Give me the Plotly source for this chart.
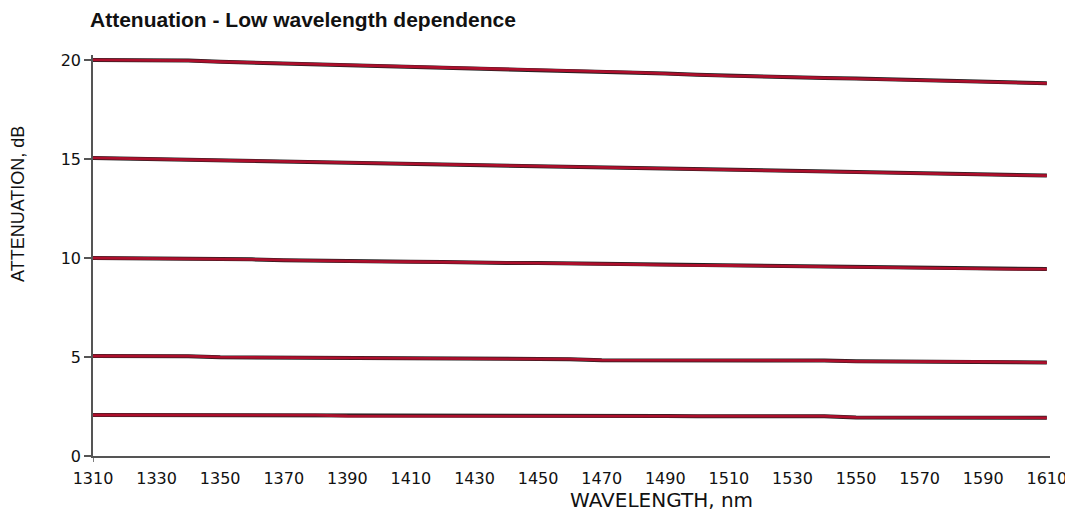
import plotly.graph_objects as go

wavelength = list(range(1310, 1611, 10))

att_20 = [20.00, 20.00, 19.99, 19.97, 19.91, 19.87, 19.83, 19.79, 19.75, 19.71, 19.67,
          19.61, 19.57, 19.53, 19.49, 19.45, 19.41, 19.37, 19.31, 19.25, 19.20, 19.17,
          19.13, 19.09, 19.06, 19.02, 18.98, 18.95, 18.91, 18.87, 18.82]
att_15 = [15.05, 15.02, 14.99, 14.96, 14.93, 14.90, 14.87, 14.84, 14.81, 14.78, 14.75,
          14.72, 14.69, 14.66, 14.63, 14.60, 14.57, 14.54, 14.51, 14.48, 14.46, 14.44,
          14.41, 14.38, 14.35, 14.32, 14.29, 14.26, 14.23, 14.20, 14.16]
att_10 = [10.00, 9.99, 9.98, 9.97, 9.96, 9.93, 9.89, 9.86, 9.83, 9.82, 9.81,
          9.80, 9.76, 9.75, 9.74, 9.72, 9.69, 9.67, 9.64, 9.63, 9.62, 9.60,
          9.57, 9.54, 9.52, 9.51, 9.50, 9.49, 9.44, 9.44, 9.44]
att_5 = [5.05, 5.05, 5.05, 5.04, 4.99, 4.98, 4.98, 4.97, 4.97, 4.96, 4.92,
         4.91, 4.91, 4.90, 4.90, 4.89, 4.84, 4.84, 4.84, 4.84, 4.84, 4.83,
         4.83, 4.82, 4.78, 4.78, 4.77, 4.77, 4.76, 4.74, 4.72]
att_2 = [2.07, 2.07, 2.07, 2.07, 2.07, 2.07, 2.07, 2.06, 2.02, 2.02, 2.02,
         2.02, 2.02, 2.02, 2.02, 2.02, 2.02, 2.02, 2.02, 2.01, 2.01, 2.01,
         2.01, 2.01, 1.95, 1.95, 1.94, 1.94, 1.94, 1.93, 1.93]

series = [att_20, att_15, att_10, att_5, att_2]

x_ticks = list(range(1310, 1611, 20))
y_ticks = [0, 5, 10, 15, 20]

title_text = "Attenuation - Low wavelength dependence"
x_title = "WAVELENGTH, nm"
y_title = "ATTENUATION, dB"

fig = go.Figure()
for s in series:
    fig.add_trace(go.Scatter(x=wavelength, y=s, mode="lines",
                             line=dict(color="#202020", width=4),
                             hoverinfo="skip", showlegend=False))
    fig.add_trace(go.Scatter(x=wavelength, y=s, mode="lines",
                             line=dict(color="#ad0f2c", width=2.8),
                             showlegend=False))

# page body has an 8px margin; compensate so the plot lands where the reference has it
OFF = 8
W, H = 1073, 529
L, R, T, B = 93 - OFF, 23 + OFF, 55 - OFF, 73 + OFF
ph = H - T - B
pw = W - L - R

def ypaper(px):
    return (H - B - (px - OFF)) / ph

def xpaper(px):
    return ((px - OFF) - L) / pw

fig.update_layout(
    width=W, height=H,
    margin=dict(l=L, r=R, t=T, b=B),
    paper_bgcolor="white", plot_bgcolor="white",
    font=dict(family="DejaVu Sans", color="#111111"),
    xaxis=dict(range=[1310, 1611], tickvals=x_ticks, ticks="",
               showgrid=False, zeroline=False, showline=True,
               linecolor="#555555", linewidth=1.5,
               tickfont=dict(family="DejaVu Sans", size=16, color="#111111"),
               ticklabelstandoff=7),
    yaxis=dict(range=[0, 20.25], tickvals=y_ticks, ticks="outside", ticklen=7,
               tickcolor="#555555", tickwidth=1.5,
               showgrid=False, zeroline=False, showline=True,
               linecolor="#555555", linewidth=1.5,
               tickfont=dict(family="DejaVu Sans", size=16, color="#111111")),
    shapes=[
        dict(type="line", xref="x", yref="paper", x0=1310, x1=1310,
             y0=0, y1=ypaper(462), line=dict(color="#555555", width=1.5)),
    ],
    annotations=[
        dict(text="<b>" + title_text + "</b>", xref="paper", yref="paper",
             x=xpaper(89), y=ypaper(19), xanchor="left", yanchor="middle",
             showarrow=False, borderpad=0,
             font=dict(family="Liberation Sans", size=21, color="#111111")),
        dict(text=x_title, xref="paper", yref="paper",
             x=xpaper(661), y=ypaper(500), xanchor="center", yanchor="middle",
             showarrow=False, borderpad=0,
             font=dict(family="DejaVu Sans", size=20, color="#111111")),
        dict(text=y_title, xref="paper", yref="paper",
             x=xpaper(18), y=ypaper(204), xanchor="center", yanchor="middle",
             textangle=-90, showarrow=False,
             font=dict(family="Liberation Sans", size=18, color="#111111")),
    ],
)

fig.write_html("out.html")
